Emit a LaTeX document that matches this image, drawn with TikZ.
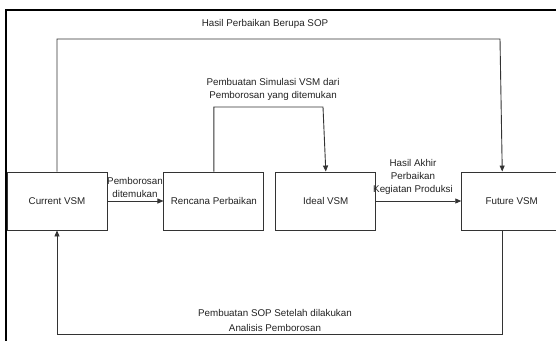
\documentclass[tikz,border=0pt]{standalone}
\usepackage{fontspec}
\setmainfont{Liberation Sans}
\usetikzlibrary{arrows.meta,positioning,calc}
\definecolor{LineGray}{HTML}{333333}
\definecolor{TextGray}{HTML}{222222}
\tikzset{
  vsmbox/.style={draw=LineGray, line width=0.9pt, minimum width=100pt, minimum height=58pt, inner sep=0pt, text=TextGray},
  arrow/.style={-{Triangle[length=6pt,width=5pt]}, line width=0.9pt, draw=LineGray},
  lbl/.style={text=TextGray, align=center, inner sep=0pt}
}

\begin{document}
\begin{tikzpicture}[
    x=1pt, y=-1pt,
    every node/.style={
        font=\fontsize{9.8}{13}\selectfont
    }
]
\useasboundingbox (0,0) rectangle (556,340);

% frame of the screenshot
\draw[line width=2pt, black] (6,341) -- (6,10) -- (557,10);

\node[vsmbox] (cur) at (57,201) {Current VSM};
\node[vsmbox, right=56pt of cur] (plan) {Rencana Perbaikan};
\node[vsmbox, right=11pt of plan] (ideal) {Ideal VSM};
\node[vsmbox, right=85pt of ideal] (fut) {Future VSM};

\coordinate (futx) at ($(fut.north west)+(41pt,0)$);
\coordinate (futb) at ($(fut.south west)+(41pt,0)$);

\draw[arrow] (cur) -- (plan);
\draw[arrow] (ideal) -- (fut);
\draw[arrow] (plan.north) |- (323,107) -- (ideal.north);
\draw[arrow] (cur.north) |- (500,39) -- (futx);
\draw[arrow] (futb) |- (57,334) -- (cur.south);

\node[lbl] (ltop) at (265,24) {Hasil Perbaikan Berupa SOP};
\node[lbl] (lmid) at (273,89.5) {Pembuatan Simulasi VSM dari\\Pemborosan yang ditemukan};
\node[lbl] (lfound) at (135,187) {Pemborosan\\ditemukan};
\node[lbl] (lres) at (413,177) {Hasil Akhir\\Perbaikan\\Kegiatan Produksi};
\node[lbl, font=\fontsize{9.8}{14.5}\selectfont] (lbot) at (275,320.5) {Pembuatan SOP Setelah dilakukan\\Analisis Pemborosan};
\end{tikzpicture}
\end{document}
